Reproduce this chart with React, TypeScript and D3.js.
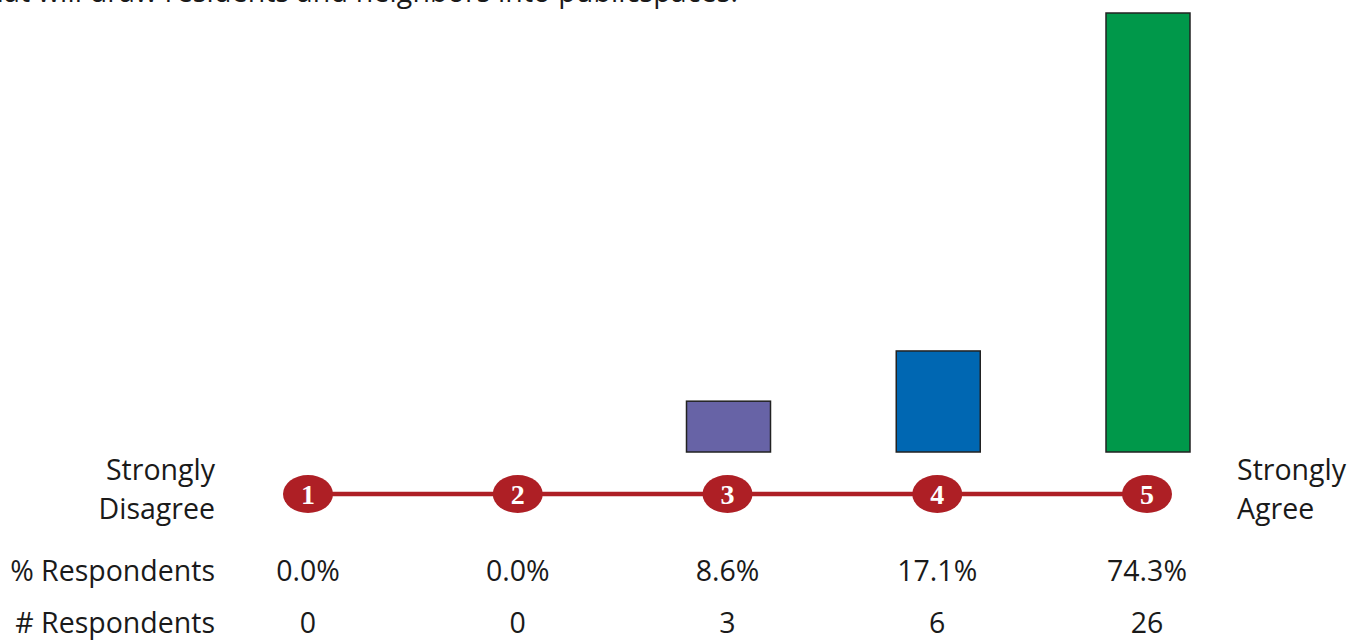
import React from "react";
import * as d3 from "d3";

const categories = ["1", "2", "3", "4", "5"];
const percents = [0.0, 0.0, 8.6, 17.1, 74.3];
const counts = [0, 0, 3, 6, 26];
const barColors = ["#6b63a6", "#6b63a6", "#6763a6", "#0067b2", "#00984a"];
const title = "that will draw residents and neighbors into publicspaces.";

const W = 1361;
const H = 640;
const FONT = "'Open Sans', 'Noto Sans', sans-serif";
const FS = 28.5;

export default function App() {
  const x = d3.scalePoint<string>().domain(categories).range([308, 1147]);
  const y = d3.scaleLinear().domain([0, 74.3]).range([452, 13]);
  const barW = 84;
  const red = "#ae1f25";
  const ink = "#1a1a1a";
  return (
    <svg width={W} height={H} style={{ position: "absolute", left: 0, top: 0, background: "#fff" }}>
      <text x={-24} y={2} fontFamily={FONT} fontSize={FS} fill={ink} textLength={762}>{title}</text>
      {categories.map((c, i) =>
        percents[i] > 0 ? (
          <rect key={"b" + c} x={(x(c) as number) - barW / 2 + 1} y={y(percents[i])} width={barW} height={y(0) - y(percents[i])}
            fill={barColors[i]} stroke="#222" strokeWidth={1.5} />
        ) : null
      )}
      <line x1={x(categories[0])} x2={x(categories[categories.length - 1])} y1={494} y2={494} stroke={red} strokeWidth={4.5} />
      {categories.map((c) => (
        <g key={"c" + c} transform={`translate(${x(c)},494)`}>
          <ellipse rx={25} ry={19} fill={red} />
          <text y={9.5} textAnchor="middle" fontFamily="'Liberation Serif', 'DejaVu Serif', serif" fontWeight="bold" fontSize={28} fill="#fff">{c}</text>
        </g>
      ))}
      <text x={215} y={480} textAnchor="end" fontFamily={FONT} fontSize={FS} fill={ink}>Strongly</text>
      <text x={215} y={519} textAnchor="end" fontFamily={FONT} fontSize={FS} fill={ink}>Disagree</text>
      <text x={1237} y={480} fontFamily={FONT} fontSize={FS} fill={ink}>Strongly</text>
      <text x={1237} y={519} fontFamily={FONT} fontSize={FS} fill={ink}>Agree</text>
      <text x={215} y={581} textAnchor="end" fontFamily={FONT} fontSize={FS} fill={ink}>% Respondents</text>
      <text x={215} y={633} textAnchor="end" fontFamily={FONT} fontSize={FS} fill={ink}># Respondents</text>
      {categories.map((c, i) => (
        <g key={"v" + c}>
          <text x={x(c)} y={581} textAnchor="middle" fontFamily={FONT} fontSize={FS} fill={ink}>{percents[i].toFixed(1)}%</text>
          <text x={x(c)} y={633} textAnchor="middle" fontFamily={FONT} fontSize={FS} fill={ink}>{counts[i]}</text>
        </g>
      ))}
    </svg>
  );
}
